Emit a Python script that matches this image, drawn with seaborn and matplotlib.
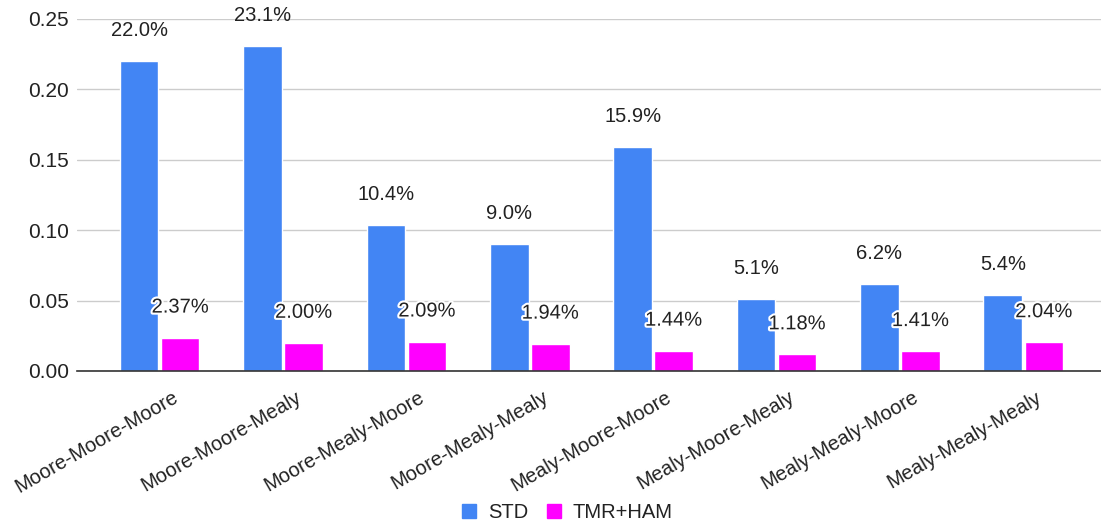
import matplotlib
matplotlib.use("Agg")
import matplotlib.pyplot as plt
import matplotlib.patheffects as pe
from matplotlib.transforms import ScaledTranslation
from matplotlib.lines import Line2D
import seaborn as sns
import pandas as pd

categories = ["Moore-Moore-Moore", "Moore-Moore-Mealy", "Moore-Mealy-Moore", "Moore-Mealy-Mealy",
              "Mealy-Moore-Moore", "Mealy-Moore-Mealy", "Mealy-Mealy-Moore", "Mealy-Mealy-Mealy"]
std_values = [0.220, 0.231, 0.104, 0.090, 0.159, 0.051, 0.062, 0.054]
tmr_values = [0.0237, 0.0200, 0.0209, 0.0194, 0.0144, 0.0118, 0.0141, 0.0204]
series = ["STD", "TMR+HAM"]
colors = ["#4285F4", "#FF00FF"]
y_ticks = [0.00, 0.05, 0.10, 0.15, 0.20, 0.25]

df = pd.DataFrame({
    "category": categories * 2,
    "value": std_values + tmr_values,
    "series": [series[0]] * len(categories) + [series[1]] * len(categories),
})

sns.set_theme(style="white")
plt.rcParams["font.family"] = ["Liberation Sans", "DejaVu Sans"]
text_color = "#222222"

fig = plt.figure(figsize=(11.01, 5.25), dpi=100)
ax = fig.add_axes([77 / 1101, 1 - 371 / 525, 1 - 77 / 1101, (371 - 19) / 525])

sns.barplot(data=df, x="category", y="value", hue="series", palette=colors,
            width=0.665, gap=0.06, ax=ax, legend=False, saturation=1)

ax.set_xlim(-0.67, 7.63)
ax.set_ylim(0, 0.25)
ax.set_yticks(y_ticks)
ax.set_yticklabels([f"{t:.2f}" for t in y_ticks])
ax.yaxis.grid(True, color="#cccccc", linewidth=1)
ax.set_axisbelow(True)
for s in ["top", "right", "left"]:
    ax.spines[s].set_visible(False)
ax.spines["bottom"].set_color("#333333")
ax.spines["bottom"].set_linewidth(1.2)
ax.set_xlabel("")
ax.set_ylabel("")
ax.tick_params(axis="y", length=0, labelsize=15, labelcolor=text_color, pad=6)
ax.tick_params(axis="x", length=0, labelsize=14.5, labelcolor=text_color, pad=12)
for lab in ax.get_xticklabels():
    lab.set_rotation(30)
    lab.set_ha("right")
    lab.set_va("top")
    lab.set_rotation_mode("anchor")
    lab.set_transform(lab.get_transform() + ScaledTranslation(12 / 100, 0, fig.dpi_scale_trans))

for ci, cont in enumerate(ax.containers):
    for patch, v in zip(cont.patches, std_values if ci == 0 else tmr_values):
        x = patch.get_x() + patch.get_width() / 2
        h = patch.get_height()
        txt = f"{v*100:.1f}%" if ci == 0 else f"{v*100:.2f}%"
        t = ax.annotate(txt, (x, h), xytext=(0, 22), textcoords="offset points",
                        ha="center", va="center", fontsize=14.5, color=text_color,
                        clip_on=False, annotation_clip=False)
        if ci == 1:
            t.set_path_effects([pe.withStroke(linewidth=3, foreground="white")])

handles = [Line2D([0], [0], marker="s", linestyle="", markersize=10.5,
                  markerfacecolor=c, markeredgecolor=c) for c in colors]
fig.legend(handles, series, loc="center", bbox_to_anchor=(567 / 1101, 1 - 513 / 525),
           ncol=2, frameon=False, fontsize=14.5, handlelength=0.75, handletextpad=0.55,
           columnspacing=0.9, labelcolor=text_color)

fig.savefig("out.png", dpi=100)
